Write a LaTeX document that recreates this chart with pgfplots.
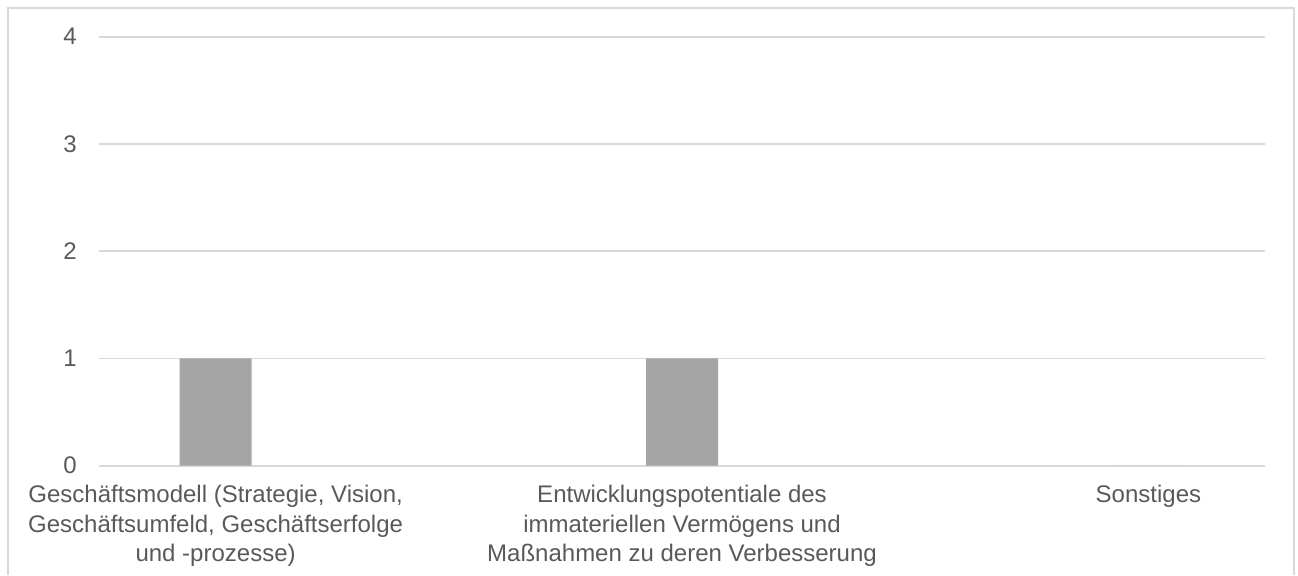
\documentclass[border=0pt]{standalone}
\usepackage{pgfplots}
\pgfplotsset{compat=1.18}
\usepackage{fontspec}
\setmainfont{Liberation Sans}
\definecolor{gridc}{HTML}{D9D9D9}
\definecolor{txt}{HTML}{595959}
\definecolor{barc}{HTML}{A5A5A5}
\begin{document}
\begin{tikzpicture}
\useasboundingbox (0pt,0pt) rectangle (973.5pt,431.25pt);
\draw[gridc, line width=1.5pt] (6pt,0pt) -- (6pt,425.25pt) -- (970.5pt,425.25pt) -- (970.5pt,0pt);
\begin{axis}[
  at={(74.25pt,81.975pt)}, anchor=south west,
  scale only axis, width=874.5pt, height=321.75pt,
  xmin=-0.25, xmax=2.25, ymin=0, ymax=4,
  ytick={0,1,2,3,4}, xtick={0,1,2},
  xticklabels={{Geschäftsmodell (Strategie, Vision,\\Geschäftsumfeld, Geschäftserfolge\\und -prozesse)},{Entwicklungspotentiale des\\immateriellen Vermögens und\\Maßnahmen zu deren Verbesserung},{Sonstiges}},
  ymajorgrids, grid style={gridc, line width=1.2pt},
  axis line style={draw=none}, major tick length=0pt,
  tick label style={font=\fontsize{18}{22}\selectfont, text=txt},
  yticklabel style={anchor=east, inner sep=0pt, xshift=-16.5pt},
  xticklabel style={anchor=north, inner sep=0pt, yshift=-14.5pt, align=center},
  /pgf/number format/assume math mode=true,
  ybar, bar width=54pt,
]
\addplot[fill=barc, draw=none] coordinates {(0,1) (1,1) (2,0)};
\end{axis}
\end{tikzpicture}
\end{document}
